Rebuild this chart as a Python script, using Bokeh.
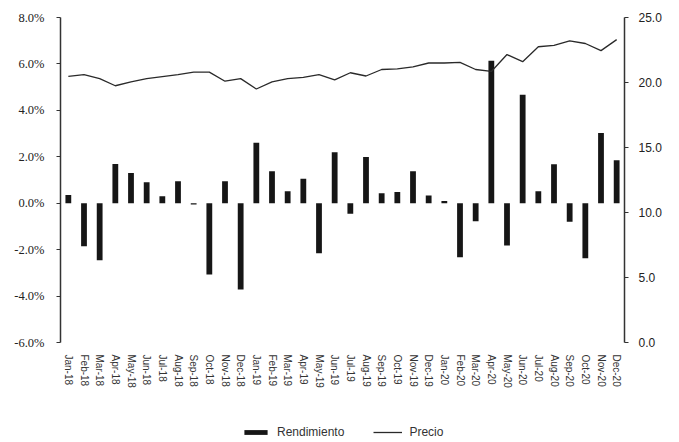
import math
from bokeh.plotting import figure
from bokeh.layouts import column
from bokeh.models import (Range1d, FactorRange, LinearAxis, FixedTicker,
                          NumeralTickFormatter, Legend, LegendItem, ColumnDataSource)
from bokeh.embed import file_html
from bokeh.resources import INLINE

months = ["Jan-18", "Feb-18", "Mar-18", "Apr-18", "May-18", "Jun-18", "Jul-18", "Aug-18",
          "Sep-18", "Oct-18", "Nov-18", "Dec-18",
          "Jan-19", "Feb-19", "Mar-19", "Apr-19", "May-19", "Jun-19", "Jul-19", "Aug-19",
          "Sep-19", "Oct-19", "Nov-19", "Dec-19",
          "Jan-20", "Feb-20", "Mar-20", "Apr-20", "May-20", "Jun-20", "Jul-20", "Aug-20",
          "Sep-20", "Oct-20", "Nov-20", "Dec-20"]

rendimiento = [0.0035, -0.0185, -0.0246, 0.0169, 0.0130, 0.0090, 0.0030, 0.0095,
               -0.0005, -0.0307, 0.0095, -0.0372,
               0.0260, 0.0138, 0.0052, 0.0105, -0.0216, 0.0220, -0.0045, 0.0199,
               0.0043, 0.0048, 0.0138, 0.0033,
               0.0010, -0.0233, -0.0078, 0.0614, -0.0182, 0.0467, 0.0052, 0.0168,
               -0.0080, -0.0237, 0.0302, 0.0185]

precio = [20.47, 20.6, 20.3, 19.75, 20.05, 20.3, 20.45, 20.6, 20.8, 20.8, 20.1, 20.3,
          19.5, 20.05, 20.3, 20.4, 20.6, 20.2, 20.75, 20.5, 21.0, 21.05, 21.2, 21.5,
          21.5, 21.55, 21.0, 20.85, 22.15, 21.6, 22.75, 22.85, 23.2, 23.0, 22.45, 23.3]

left_ticks = [-0.06, -0.04, -0.02, 0.0, 0.02, 0.04, 0.06, 0.08]
right_ticks = [0, 5, 10, 15, 20, 25]
series_names = ["Rendimiento", "Precio"]

BAR = "#161616"
LINE = "#2a2a2a"

src = ColumnDataSource(dict(m=months, r=rendimiento, p=precio))

p = figure(width=679, height=412, output_backend="svg", toolbar_location=None,
           x_range=FactorRange(factors=months, range_padding=0),
           y_range=Range1d(-0.06, 0.08),
           min_border_left=60, min_border_right=55, min_border_top=17, min_border_bottom=70)
p.outline_line_color = None
p.xgrid.grid_line_color = None
p.ygrid.grid_line_color = None

p.extra_y_ranges = {"precio": Range1d(0, 25)}

p.vbar(x="m", top="r", bottom=0, width=0.37, source=src,
       fill_color=BAR, line_color=None)
p.line(x="m", y="p", source=src, y_range_name="precio",
       line_color=LINE, line_width=1.3)

# left axis
ya = p.yaxis[0]
ya.ticker = FixedTicker(ticks=left_ticks)
ya.formatter = NumeralTickFormatter(format="0.0%")
ya.axis_line_color = "#333333"
ya.axis_line_width = 1.5
ya.major_tick_line_color = "#333333"
ya.major_tick_out = 4
ya.major_tick_in = 0
ya.minor_tick_line_color = None
ya.major_label_standoff = 12
ya.major_label_text_font = "Liberation Serif"
ya.major_label_text_font_size = "12.5px"
ya.major_label_text_color = "#222222"

# right axis
ra = LinearAxis(y_range_name="precio", ticker=FixedTicker(ticks=right_ticks),
                formatter=NumeralTickFormatter(format="0.0"))
ra.axis_line_color = "#333333"
ra.axis_line_width = 1.5
ra.major_tick_line_color = "#333333"
ra.major_tick_out = 4
ra.major_tick_in = 0
ra.minor_tick_line_color = None
ra.major_label_standoff = 10
ra.major_label_text_font = "Liberation Sans"
ra.major_label_text_font_size = "12px"
ra.major_label_text_color = "#222222"
p.add_layout(ra, "right")

# x axis
xa = p.xaxis[0]
xa.axis_line_color = None
xa.major_tick_line_color = None
xa.major_label_orientation = -math.pi / 2
xa.major_label_standoff = 6
xa.major_label_text_font = "Liberation Sans"
xa.major_label_text_font_size = "10px"
xa.major_label_text_color = "#333333"

# legend strip (its renderers use the same data but fall outside its visible range)
lf = figure(width=679, height=30, output_backend="svg", toolbar_location=None,
            x_range=FactorRange(factors=months, range_padding=0), y_range=Range1d(100, 101),
            min_border_left=60, min_border_right=55, min_border_top=0, min_border_bottom=0)
lf.axis.visible = False
lf.grid.visible = False
lf.outline_line_color = None
lb = lf.vbar(x="m", top="r", bottom=0, width=0.37, source=src, fill_color=BAR, line_color=None)
ll = lf.line(x="m", y="r", source=src, line_color=LINE, line_width=1.3)

legend = Legend(items=[LegendItem(label=series_names[0], renderers=[lb]),
                       LegendItem(label=series_names[1], renderers=[ll])],
                location=(181, 3), orientation="horizontal",
                border_line_color=None, background_fill_alpha=0,
                padding=0, margin=0, spacing=29, label_standoff=7,
                glyph_width=29, glyph_height=6, label_height=12,
                label_text_font="Liberation Sans", label_text_font_size="12px",
                label_text_color="#333333")
lf.add_layout(legend, "center")

layout = column(p, lf, spacing=0)
open("out.html", "w").write(file_html(layout, INLINE))
